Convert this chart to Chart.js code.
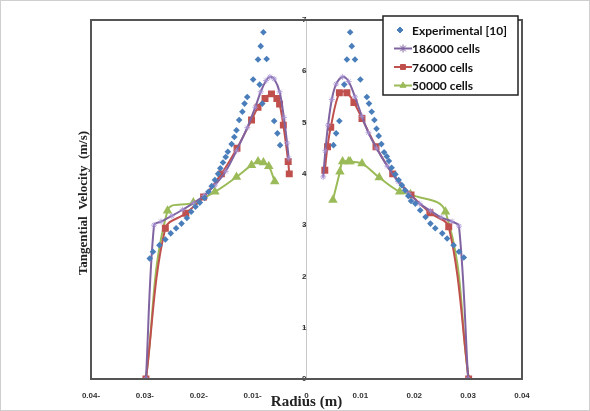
<!DOCTYPE html>
<html>
<head>
<meta charset="utf-8">
<script src="https://cdn.jsdelivr.net/npm/chart.js@4"></script>
<style>
	html, body { margin: 0; padding: 0; background: #fff; }
	#wrap { width: 590px; height: 411px; position: relative; }
</style>
</head>
<body>
<div id="wrap"><canvas id="velocity"></canvas></div>
<script>
// 실험값 (Experimental [10])
var expRadius = [-0.0291, -0.0285, -0.0273, -0.0262, -0.0252, -0.0242, -0.0232, -0.0222, -0.0214, -0.0206, -0.0198,
	-0.0189, -0.0182, -0.0176, -0.0170, -0.0164, -0.0160, -0.0155, -0.0150, -0.0146, -0.0139, -0.0134, -0.0130,
	-0.0125, -0.0119, -0.0115, -0.0110, -0.0099, -0.0090, -0.0087, -0.0085, -0.0082, -0.0080, -0.0074, -0.0060,
	-0.0054, -0.0049,
	0.0050, 0.0055, 0.0061, 0.0070, 0.0075, 0.0081, 0.0084, 0.0090, 0.0100, 0.0112, 0.0116, 0.0121, 0.0126,
	0.0130, 0.0134, 0.0139, 0.0144, 0.0149, 0.0153, 0.0158, 0.0165, 0.0171, 0.0177, 0.0183, 0.0189, 0.0194,
	0.0202, 0.0211, 0.0221, 0.0230, 0.0239, 0.0252, 0.0261, 0.0273, 0.0283, 0.0292];
var expVelocity = [2.35, 2.48, 2.61, 2.72, 2.84, 2.94, 3.03, 3.14, 3.26, 3.36, 3.44,
	3.53, 3.65, 3.76, 3.88, 4.00, 4.11, 4.22, 4.33, 4.43, 4.58, 4.72, 4.85,
	5.05, 5.21, 5.37, 5.50, 5.84, 6.23, 5.74, 6.49, 5.37, 6.76, 6.24, 5.03,
	4.79, 4.56,
	4.56, 4.79, 5.03, 5.74, 6.23, 6.76, 6.49, 6.23, 5.84, 5.50, 5.37, 5.21, 5.05,
	4.88, 4.74, 4.58, 4.42, 4.34, 4.25, 4.12, 3.99, 3.88, 3.78, 3.68, 3.57, 3.47,
	3.42, 3.29, 3.16, 3.03, 2.94, 2.84, 2.74, 2.61, 2.48, 2.37];

// 186000 cells
var fineLeftR = [-0.0298, -0.0283, -0.0270, -0.0250, -0.0230, -0.0210, -0.0190, -0.0170, -0.0150, -0.0130,
	-0.0110, -0.0095, -0.0085, -0.0075, -0.0068, -0.0060, -0.0050, -0.0042, -0.0036, -0.0033];
var fineLeftV = [0, 3.00, 3.07, 3.18, 3.30, 3.43, 3.58, 3.78, 4.05, 4.45,
	4.90, 5.30, 5.60, 5.82, 5.89, 5.85, 5.60, 5.10, 4.60, 4.30];
var fineRightR = [0.0031, 0.0035, 0.0040, 0.0047, 0.0055, 0.0067, 0.0078, 0.0090, 0.0103, 0.0115,
	0.0130, 0.0150, 0.0170, 0.0190, 0.0210, 0.0230, 0.0250, 0.0270, 0.0283, 0.0300];
var fineRightV = [3.94, 4.45, 4.95, 5.45, 5.75, 5.89, 5.80, 5.50, 5.12, 4.80,
	4.50, 4.15, 3.85, 3.62, 3.42, 3.28, 3.15, 3.07, 2.98, 0];

// 76000 cells
var midLeftR = [-0.0298, -0.0262, -0.0224, -0.0191, -0.0158, -0.0129, -0.0102, -0.0090, -0.0077, -0.0065,
	-0.0055, -0.0050, -0.0043, -0.0034, -0.0032];
var midLeftV = [0, 2.94, 3.23, 3.55, 4.00, 4.50, 5.05, 5.30, 5.47, 5.56,
	5.47, 5.36, 4.95, 4.24, 4.00];
var midRightR = [0.0034, 0.0039, 0.0045, 0.0061, 0.0075, 0.0088, 0.0103, 0.0129, 0.0160, 0.0194,
	0.0229, 0.0264, 0.0301];
var midRightV = [4.07, 4.53, 4.91, 5.58, 5.58, 5.39, 5.08, 4.53, 4.00, 3.59,
	3.24, 2.97, 0];

// 50000 cells
var coarseLeftR = [-0.0298, -0.0258, -0.0210, -0.0170, -0.0130, -0.0102, -0.0090, -0.0080, -0.0070, -0.0059];
var coarseLeftV = [0, 3.28, 3.44, 3.65, 3.94, 4.17, 4.24, 4.22, 4.15, 3.85];
var coarseRightR = [0.0049, 0.0062, 0.0067, 0.0078, 0.0081, 0.0103, 0.0135, 0.0173, 0.0193, 0.0258, 0.0301];
var coarseRightV = [3.49, 4.04, 4.24, 4.24, 4.24, 4.20, 3.93, 3.65, 3.60, 3.26, 0];

var yTicks = [0, 1, 2, 3, 4, 5, 6, 7];

function toPoints(r, v) {
	var out = [];
	for (var i = 0; i < r.length; i++) out.push({ x: r[i], y: v[i] });
	return out;
}
function joinSides(lr, lv, rr, rv) {
	return toPoints(lr, lv).concat([{ x: 0, y: null }], toPoints(rr, rv));
}

var legendItems = [
	{ text: 'Experimental [10]', color: '#4a7ebb', style: 'rectRot', line: false, r: 3 },
	{ text: '186000 cells', color: '#8064a2', style: 'star', line: true, r: 4 },
	{ text: '76000 cells', color: '#c0504d', style: 'rect', line: true, r: 3.5 },
	{ text: '50000 cells', color: '#9bbb59', style: 'triangle', line: true, r: 3.5 }
];

var framePlugin = {
	id: 'frame',
	afterDraw: function(chart) {
		var ctx = chart.ctx, a = chart.chartArea;
		ctx.save();
		// 바깥 테두리
		ctx.strokeStyle = '#cfcfcf';
		ctx.lineWidth = 1;
		ctx.strokeRect(0.5, 0.5, chart.width - 1, chart.height - 1);
		// 플롯 테두리
		ctx.strokeStyle = '#555';
		ctx.lineWidth = 2;
		ctx.strokeRect(a.left, a.top, a.right - a.left, a.bottom - a.top);

		// y축 제목
		ctx.fillStyle = '#222';
		ctx.font = 'bold 13px "Liberation Serif"';
		ctx.textAlign = 'center';
		ctx.textBaseline = 'middle';
		ctx.translate(84, 203);
		ctx.rotate(-Math.PI / 2);
		ctx.fillText('Tangential  Velocity  (m/s)', 0, 0);
		ctx.restore();

		// 범례
		ctx.save();
		var bx = 383, by = 16, bw = 135, bh = 79;
		ctx.fillStyle = '#fff';
		ctx.fillRect(bx, by, bw, bh);
		ctx.strokeStyle = '#222';
		ctx.lineWidth = 1.5;
		ctx.strokeRect(bx, by, bw, bh);
		ctx.font = 'bold 12px Lato';
		ctx.textBaseline = 'middle';
		ctx.textAlign = 'left';
		for (var i = 0; i < legendItems.length; i++) {
			var it = legendItems[i];
			var yy = by + 14 + i * 18.5;
			if (it.line) {
				ctx.strokeStyle = it.color;
				ctx.lineWidth = 2;
				ctx.beginPath();
				ctx.moveTo(394, yy);
				ctx.lineTo(412, yy);
				ctx.stroke();
			}
			ctx.fillStyle = it.color;
			ctx.strokeStyle = it.color;
			ctx.lineWidth = 1;
			Chart.helpers.drawPoint(ctx, { pointStyle: it.style, radius: it.r, borderWidth: 1 }, it.line ? 403 : 400, yy);
			ctx.fillStyle = '#111';
			ctx.fillText(it.text, 412, yy + 1);
		}
		ctx.restore();
	}
};

window.onload = function() {
	var ctx = document.getElementById('velocity').getContext('2d');
	var velocity = new Chart(ctx, {
		type: 'scatter',
		data: {
			datasets: [
				{
					label: 'Experimental [10]',
					data: toPoints(expRadius, expVelocity),
					showLine: false,
					pointStyle: 'rectRot',
					pointRadius: 3.3,
					backgroundColor: '#4a7ebb',
					borderColor: '#4a7ebb',
					borderWidth: 0
				},
				{
					label: '186000 cells',
					data: joinSides(fineLeftR, fineLeftV, fineRightR, fineRightV),
					showLine: true,
					spanGaps: false,
					tension: 0.35,
					borderColor: '#8064a2',
					borderWidth: 2,
					pointStyle: 'star',
					pointRadius: 3,
					pointBorderWidth: 0.8,
					pointBorderColor: '#a48fd0',
					backgroundColor: '#8064a2'
				},
				{
					label: '76000 cells',
					data: joinSides(midLeftR, midLeftV, midRightR, midRightV),
					showLine: true,
					spanGaps: false,
					tension: 0.35,
					borderColor: '#c0504d',
					borderWidth: 2,
					pointStyle: 'rect',
					pointRadius: 3.5,
					pointBackgroundColor: '#c0504d',
					pointBorderColor: '#c0504d',
					backgroundColor: '#c0504d'
				},
				{
					label: '50000 cells',
					data: joinSides(coarseLeftR, coarseLeftV, coarseRightR, coarseRightV),
					showLine: true,
					spanGaps: false,
					tension: 0.4,
					borderColor: '#9bbb59',
					borderWidth: 2,
					pointStyle: 'triangle',
					pointRadius: 3.5,
					pointBackgroundColor: '#9bbb59',
					pointBorderColor: '#9bbb59',
					backgroundColor: '#9bbb59'
				}
			]
		},
		options: {
			responsive: true,
			maintainAspectRatio: false,
			animation: false,
			layout: { padding: { left: 91, right: 68, top: 20, bottom: 0 } },
			plugins: {
				legend: { display: false },
				tooltip: { enabled: false }
			},
			scales: {
				x: {
					type: 'linear',
					position: 'bottom',
					min: -0.04,
					max: 0.04,
					afterFit: function(scale) { scale.height = 32; },
					ticks: {
						stepSize: 0.01,
						padding: 12,
						color: '#333',
						font: { family: 'Liberation Sans', size: 8, weight: 'bold' },
						maxRotation: 0,
						callback: function(v) {
							if (Math.abs(v) < 1e-9) return '0';
							return v < 0 ? Math.abs(v).toFixed(2) + '-' : v.toFixed(2);
						}
					},
					grid: { display: false, drawTicks: false },
					border: { display: true, color: '#555', width: 2 },
					title: {
						display: true,
						text: 'Radius (m)',
						color: '#222',
						font: { family: 'Liberation Serif', size: 15, weight: 'bold' },
						padding: { top: 0, bottom: 0 }
					}
				},
				y: {
					type: 'linear',
					position: { x: 0 },
					min: 0,
					max: 7,
					afterBuildTicks: function(scale) {
						scale.ticks = yTicks.map(function(t) { return { value: t }; });
					},
					ticks: {
						padding: 4,
						color: '#333',
						font: { family: 'Liberation Sans', size: 8, weight: 'bold' }
					},
					grid: { display: true, drawOnChartArea: false, drawTicks: true, tickLength: 3, color: '#bbb' },
					border: { display: true, color: '#c8c8c8', width: 1 }
				}
			}
		},
		plugins: [framePlugin]
	});
};
</script>
</body>
</html>
